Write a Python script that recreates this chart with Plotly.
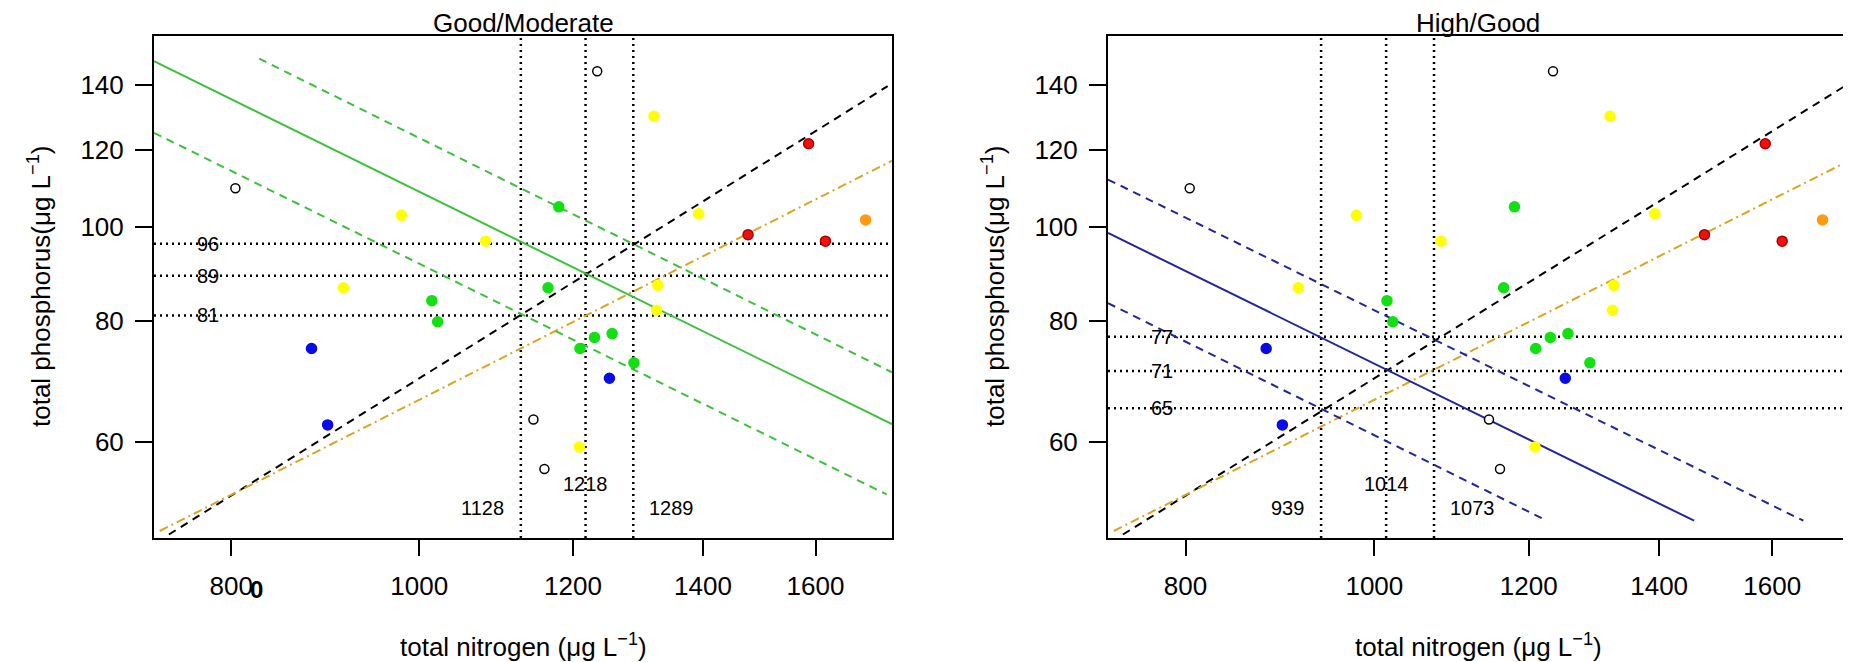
import numpy as np
import plotly.graph_objects as go

# site means, total nitrogen / total phosphorus (ug/L)
site_tn = [804, 1235, 1145, 1160,
           1321, 979, 1082, 1393, 914, 1327, 1325, 1209,
           1180, 1015, 1022, 1165, 1210, 1231, 1257, 1290,
           880, 897, 1253,
           1587, 1477, 1619,
           1698]
site_tp = [109.5, 144.5, 63.3, 56.3,
           129.9, 102.7, 96.6, 103.1, 86.5, 87.0, 82.0, 59.3,
           104.8, 83.9, 79.8, 86.5, 74.9, 76.9, 77.6, 72.4,
           74.9, 62.5, 69.8,
           121.7, 98.1, 96.6,
           101.6]
site_status = ['none'] * 4 + ['moderate'] * 8 + ['good'] * 8 + ['high'] * 3 + ['bad'] * 3 + ['poor']

status_fill = {'none': 'white', 'high': '#0A0AE6', 'good': '#12E012',
               'moderate': '#FFFF00', 'poor': '#FF9A10', 'bad': '#F01010'}
status_edge = {'none': 'black', 'high': '#0A0AE6', 'good': '#12E012',
               'moderate': '#FFFF00', 'poor': '#FF9A10', 'bad': '#B00000'}

# TN:TP lines (same in both panels)
ratio_tn = [743, 1743]
ratio_tp = [48.2, 139.5]
mass_tn = [735, 1752]
mass_tp = [48.6, 116.9]

# Good/Moderate boundary line and its band
gm_tn = [730, 1752]
gm_tp = [148.0, 62.6]
gm_up_tn = [827, 1752]
gm_up_tp = [148.9, 70.8]
gm_lo_tn = [730, 1741]
gm_lo_tp = [124.9, 53.0]
gm_tn_cut = [1128, 1218, 1289]
gm_tp_cut = [81, 89, 96]

# High/Good boundary line and its band
hg_tn = [730, 1459]
hg_tp = [98.5, 49.8]
hg_up_tn = [730, 1660]
hg_up_tp = [111.8, 49.8]
hg_lo_tn = [730, 1226]
hg_lo_tp = [83.4, 49.8]
hg_tn_cut = [939, 1014, 1073]
hg_tp_cut = [65, 71, 77]

# axis limits
tn_lim = [730, 1752]
tp_lim = [47.8, 157.0]

FONT = 'Liberation Sans, Arial, sans-serif'
W, H = 1851, 662
DOT = dict(color='black', width=2.5, dash='2px,4px')

panels = [
    dict(xa='x', ya='y', title='Good/Moderate', col='#3CC13C',
         mid=(gm_tn, gm_tp), up=(gm_up_tn, gm_up_tp), lo=(gm_lo_tn, gm_lo_tp),
         tn_cut=gm_tn_cut, tp_cut=gm_tp_cut, dom=[146 / W, 884 / W]),
    dict(xa='x2', ya='y2', title='High/Good', col='#24249C',
         mid=(hg_tn, hg_tp), up=(hg_up_tn, hg_up_tp), lo=(hg_lo_tn, hg_lo_tp),
         tn_cut=hg_tn_cut, tp_cut=hg_tp_cut, dom=[1100 / W, 1841 / W]),
]

fig = go.Figure()
annotations = []

for p in panels:
    xa, ya = p['xa'], p['ya']
    xd = 'x domain' if xa == 'x' else 'x2 domain'
    yd = 'y domain' if ya == 'y' else 'y2 domain'

    # dotted threshold lines
    for v in p['tn_cut']:
        fig.add_trace(go.Scatter(x=[v, v], y=tp_lim, mode='lines', xaxis=xa, yaxis=ya,
                                 line=DOT, showlegend=False, hoverinfo='skip'))
    for v in p['tp_cut']:
        fig.add_trace(go.Scatter(x=tn_lim, y=[v, v], mode='lines', xaxis=xa, yaxis=ya,
                                 line=DOT, showlegend=False, hoverinfo='skip'))

    fig.add_trace(go.Scatter(x=ratio_tn, y=ratio_tp, mode='lines', xaxis=xa, yaxis=ya,
                             line=dict(color='black', width=2, dash='8px,6px'), showlegend=False))
    fig.add_trace(go.Scatter(x=mass_tn, y=mass_tp, mode='lines', xaxis=xa, yaxis=ya,
                             line=dict(color='#DAA520', width=2, dash='9px,4px,2px,4px'), showlegend=False))
    fig.add_trace(go.Scatter(x=p['mid'][0], y=p['mid'][1], mode='lines', xaxis=xa, yaxis=ya,
                             line=dict(color=p['col'], width=2), showlegend=False))
    for band in (p['up'], p['lo']):
        fig.add_trace(go.Scatter(x=band[0], y=band[1], mode='lines', xaxis=xa, yaxis=ya,
                                 line=dict(color=p['col'], width=2, dash='8px,6px'), showlegend=False))

    # points by status
    for st in ['none', 'moderate', 'good', 'high', 'bad', 'poor']:
        xs = [t for t, s in zip(site_tn, site_status) if s == st]
        ys = [t for t, s in zip(site_tp, site_status) if s == st]
        fig.add_trace(go.Scatter(x=xs, y=ys, mode='markers', xaxis=xa, yaxis=ya, showlegend=False,
                                 marker=dict(size=10 if st != 'none' else 9, color=status_fill[st],
                                             line=dict(color=status_edge[st], width=1.5))))

    # labels for thresholds (annotation coords on log axes are log10)
    tn = p['tn_cut']
    annotations.append(dict(x=np.log10(tn[0]), xref=xa, y=0.0345, yref=yd, text=str(tn[0]),
                            xanchor='right', xshift=-15, showarrow=False, font=dict(size=20)))
    annotations.append(dict(x=np.log10(tn[1]), xref=xa, y=0.081, yref=yd, text=str(tn[1]),
                            xanchor='center', showarrow=False, font=dict(size=20)))
    annotations.append(dict(x=np.log10(tn[2]), xref=xa, y=0.0345, yref=yd, text=str(tn[2]),
                            xanchor='left', xshift=14, showarrow=False, font=dict(size=20)))
    for v in p['tp_cut']:
        annotations.append(dict(x=0.073, xref=xd, y=np.log10(v), yref=ya, text=str(v),
                                xanchor='center', yanchor='middle', showarrow=False, font=dict(size=20)))

    # panel title and axis titles
    cx = (p['dom'][0] + p['dom'][1]) / 2
    annotations.append(dict(x=cx, y=(H - 15) / H, xref='paper', yref='paper', text=p['title'],
                            showarrow=False, xanchor='center', yanchor='middle', font=dict(size=26)))
    annotations.append(dict(x=cx, y=(H - 637) / H, xref='paper', yref='paper',
                            text='total nitrogen (\u03bcg L<sup>\u22121</sup>)',
                            showarrow=False, xanchor='center', yanchor='middle', font=dict(size=26)))
    annotations.append(dict(x=(p['dom'][0] * W - 115) / W, y=(H - 279) / H, xref='paper', yref='paper',
                            text='total phosphorus(\u03bcg L<sup>\u22121</sup>)', textangle=-90,
                            showarrow=False, xanchor='center', yanchor='middle', font=dict(size=26)))

# stray bold "0" next to the 800 label on the left panel
annotations.append(dict(x=248.5 / W, y=(H - 581) / H, xref='paper', yref='paper', text='<b>0</b>',
                        showarrow=False, xanchor='center', yanchor='middle', font=dict(size=24)))

xaxis_style = dict(type='log', range=[np.log10(tn_lim[0]), np.log10(tn_lim[1])],
                   tickvals=[800, 1000, 1200, 1400, 1600], ticktext=['800', '1000', '1200', '1400', '1600'],
                   ticks='outside', ticklen=16, tickwidth=2, tickcolor='black',
                   showline=True, linewidth=2, linecolor='black', mirror=True,
                   showgrid=False, zeroline=False, ticklabelstandoff=8,
                   tickfont=dict(size=26, color='black'))
yaxis_style = dict(type='log', range=[np.log10(tp_lim[0]), np.log10(tp_lim[1])],
                   tickvals=[60, 80, 100, 120, 140], ticktext=['60', '80', '100', '120', '140'],
                   ticks='outside', ticklen=17, tickwidth=2, tickcolor='black',
                   showline=True, linewidth=2, linecolor='black', mirror=True,
                   showgrid=False, zeroline=False, ticklabelstandoff=6,
                   tickfont=dict(size=26, color='black'), domain=[132 / H, (H - 28.3) / H])

fig.update_layout(
    width=W, height=H,
    margin=dict(l=0, r=0, t=0, b=0),
    paper_bgcolor='white', plot_bgcolor='white',
    font=dict(family=FONT, color='black'),
    showlegend=False,
    xaxis=dict(xaxis_style, domain=panels[0]['dom'], anchor='y'),
    yaxis=dict(yaxis_style, anchor='x'),
    xaxis2=dict(xaxis_style, domain=panels[1]['dom'], anchor='y2'),
    yaxis2=dict(yaxis_style, anchor='x2'),
    annotations=annotations,
)

fig.write_html("out.html")
